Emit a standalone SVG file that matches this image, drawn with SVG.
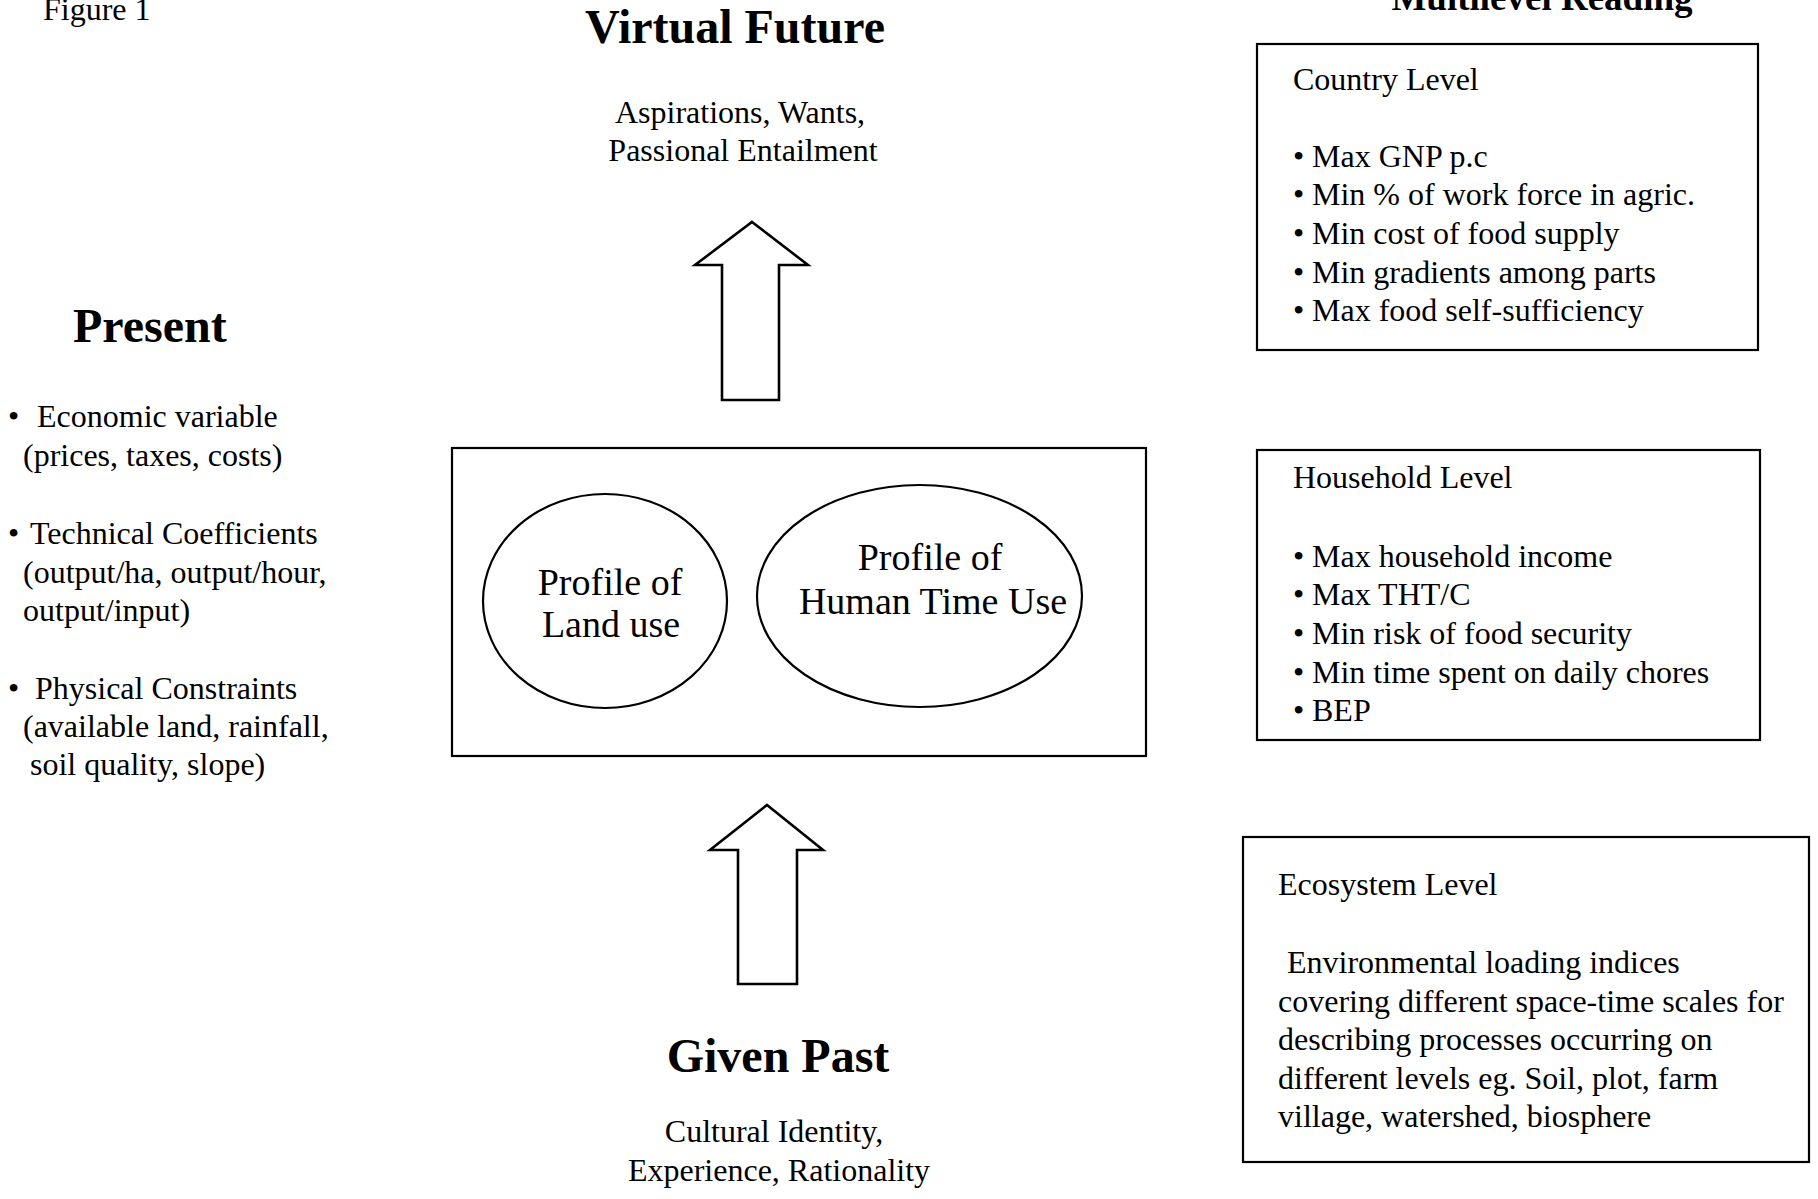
<svg xmlns="http://www.w3.org/2000/svg" width="1818" height="1199" viewBox="0 0 1818 1199">
<style>
text{font-family:"Liberation Serif","Times New Roman",serif;fill:#000}
.t{font-size:32px}
.e{font-size:38px}
.h{font-size:48px;font-weight:bold}
.box{fill:none;stroke:#000;stroke-width:2.2}
.ell{fill:none;stroke:#000;stroke-width:2.2}
.arrow{fill:#fff;stroke:#000;stroke-width:2.6;stroke-linejoin:miter}
</style>
<rect width="1818" height="1199" fill="#fff"/>
<text id="fig" class="t" x="43" y="20">Figure 1</text>
<text id="multilevel" x="1542" y="10" text-anchor="middle" style="font-size:37px;font-weight:bold">Multilevel Reading</text>

<g id="virtual-future">
<text class="h" x="735" y="43" text-anchor="middle">Virtual Future</text>
<text class="t" x="740" y="123" text-anchor="middle">Aspirations, Wants,</text>
<text class="t" x="743" y="161" text-anchor="middle">Passional Entailment</text>
</g>

<g id="present">
<text class="h" x="73" y="342">Present</text>
<text class="t"><tspan x="8" y="427">•</tspan><tspan x="37" y="427">Economic variable</tspan><tspan x="23" y="466">(prices, taxes, costs)</tspan></text>
<text class="t"><tspan x="8" y="544">•</tspan><tspan x="30" y="544">Technical Coefficients</tspan><tspan x="23" y="583">(output/ha, output/hour,</tspan><tspan x="23" y="621">output/input)</tspan></text>
<text class="t"><tspan x="8" y="699">•</tspan><tspan x="35" y="699">Physical Constraints</tspan><tspan x="23" y="737">(available land, rainfall,</tspan><tspan x="30" y="775">soil quality, slope)</tspan></text>
</g>

<g id="central">
<rect class="box" x="452" y="448" width="694" height="308"/>
<g id="land-use">
<ellipse class="ell" cx="605" cy="601" rx="122" ry="107"/>
<text class="e" x="610" y="595" text-anchor="middle">Profile of</text>
<text class="e" x="611" y="637" text-anchor="middle">Land use</text>
</g>
<g id="human-time">
<ellipse class="ell" cx="919.5" cy="596" rx="162.5" ry="111"/>
<text class="e" x="930" y="570" text-anchor="middle">Profile of</text>
<text class="e" x="933" y="614" text-anchor="middle">Human Time Use</text>
</g>
</g>

<g id="connectors">
<polygon class="arrow" points="752,222 808,265 779,265 779,400 722,400 722,265 695,265"/>
<polygon class="arrow" points="767,805 823,850 797,850 797,984 738,984 738,850 710,850"/>
</g>

<g id="given-past">
<text class="h" x="778" y="1072" text-anchor="middle">Given Past</text>
<text class="t" x="774" y="1142" text-anchor="middle">Cultural Identity,</text>
<text class="t" x="779" y="1181" text-anchor="middle">Experience, Rationality</text>
</g>

<g id="country">
<rect class="box" x="1257" y="44" width="501" height="306"/>
<text class="t" x="1293" y="90">Country Level</text>
<text class="t"><tspan x="1293" y="167">•</tspan><tspan x="1312" y="167">Max GNP p.c</tspan><tspan x="1293" y="205">•</tspan><tspan x="1312" y="205">Min % of work force in agric.</tspan><tspan x="1293" y="244">•</tspan><tspan x="1312" y="244">Min cost of food supply</tspan><tspan x="1293" y="283">•</tspan><tspan x="1312" y="283">Min gradients among parts</tspan><tspan x="1293" y="321">•</tspan><tspan x="1312" y="321">Max food self-sufficiency</tspan></text>
</g>

<g id="household">
<rect class="box" x="1257" y="450" width="503" height="290"/>
<text class="t" x="1293" y="488">Household Level</text>
<text class="t"><tspan x="1293" y="567">•</tspan><tspan x="1312" y="567">Max household income</tspan><tspan x="1293" y="605">•</tspan><tspan x="1312" y="605">Max THT/C</tspan><tspan x="1293" y="644">•</tspan><tspan x="1312" y="644">Min risk of food security</tspan><tspan x="1293" y="683">•</tspan><tspan x="1312" y="683">Min time spent on daily chores</tspan><tspan x="1293" y="721">•</tspan><tspan x="1312" y="721">BEP</tspan></text>
</g>

<g id="ecosystem">
<rect class="box" x="1243" y="837" width="566" height="325"/>
<text class="t" x="1278" y="895">Ecosystem Level</text>
<text class="t"><tspan x="1287" y="973">Environmental loading indices</tspan><tspan x="1278" y="1012">covering different space-time scales for</tspan><tspan x="1278" y="1050">describing processes occurring on</tspan><tspan x="1278" y="1089">different levels eg. Soil, plot, farm</tspan><tspan x="1278" y="1127">village, watershed, biosphere</tspan></text>
</g>
</svg>
